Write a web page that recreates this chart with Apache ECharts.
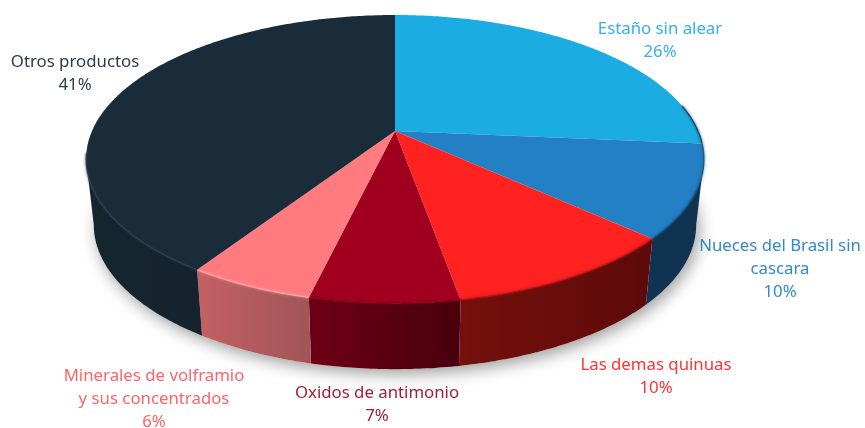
<!DOCTYPE html>
<html>
<head>
<meta charset="utf-8">
<title>Exportaciones</title>
<script src="https://cdn.jsdelivr.net/npm/echarts@6/dist/echarts.min.js"></script>
<style>
  html, body { margin: 0; padding: 0; background: #fff; }
  #main { width: 865px; height: 428px; }
</style>
</head>
<body>
<div id="main"></div>
<script>
const categories = ['Estaño sin alear', 'Nueces del Brasil sin\ncascara', 'Las demas quinuas',
  'Oxidos de antimonio', 'Minerales de volframio\ny sus concentrados', 'Otros productos'];
const values = [26.4, 10.4, 10.4, 6.5, 5.5, 40.8];

const topColors = ['#1BACE2', '#2480C4', '#FE2220', '#A0001E', '#FF7B80', '#1A2C3A'];
const wallLeft = ['#0F3350', '#0F3350', '#74100D', '#6E0014', '#C46064', '#15252F'];
const wallRight = ['#0F3350', '#0F3350', '#5E0A0A', '#48000C', '#A05558', '#14232E'];
const rimColors = ['#0F3350', '#16507E', '#A8120F', '#8A0019', '#FFA4A8', '#283F4E'];
const labelColors = ['#36B1E6', '#3388CC', '#FF3333', '#A0203C', '#FF6468', '#2B3C4A'];
// centro x / y de la primera linea de cada etiqueta
const labelPos = [[660, 18], [780, 235], [656, 354], [377, 382], [154, 365], [75, 51]];

// proyeccion del disco, con perspectiva
const cx = 395, cyTop = 131, cyBottom = 197;
const R = 303, S = 138.6, k = 0.195, bottomScale = 0.975;
// angulos donde la cara superior llega a su ancho maximo
const wallFrom = Math.acos(-k), wallTo = Math.PI * 2 - wallFrom;

const total = values.reduce((a, b) => a + b, 0);
const starts = [];
values.reduce((acc, v, i) => { starts[i] = acc; return acc + v; }, 0);

function project(angle, bottom) {
  const u = Math.sin(angle), v = -Math.cos(angle);
  const den = 1 - k * v;
  if (bottom) return [cx + bottomScale * R * u / den, cyBottom + S * v / den];
  return [cx + R * u / den, cyTop + S * v / den];
}

function arc(from, to, bottom) {
  const pts = [];
  const n = Math.max(4, Math.ceil((to - from) * 90));
  for (let j = 0; j <= n; j++) pts.push(project(from + (to - from) * j / n, bottom));
  return pts;
}

function sliceAngles(i) {
  return [starts[i] / total * Math.PI * 2, (starts[i] + values[i]) / total * Math.PI * 2];
}

const option = {
  backgroundColor: '#fff',
  animation: false,
  tooltip: { show: false },
  series: [
    {
      // sombra sobre el piso
      type: 'custom', coordinateSystem: 'none', silent: true, z: 1,
      data: [1],
      renderItem() {
        return {
          type: 'polygon',
          shape: { points: arc(0, Math.PI * 2, true) },
          style: { fill: '#fff', shadowBlur: 16, shadowOffsetX: 3, shadowOffsetY: 5, shadowColor: 'rgba(0,0,0,0.38)' }
        };
      }
    },
    {
      // paredes, solo la parte de adelante
      type: 'custom', coordinateSystem: 'none', silent: true, z: 2,
      data: values,
      renderItem(params) {
        const i = params.dataIndex;
        const [a0, a1] = sliceAngles(i);
        const from = Math.max(a0, wallFrom), to = Math.min(a1, wallTo);
        if (to <= from) return null;
        return {
          type: 'polygon',
          shape: { points: arc(from, to, false).concat(arc(from, to, true).reverse()) },
          style: { fill: new echarts.graphic.LinearGradient(0, 0, 1, 0, [
            { offset: 0, color: wallLeft[i] }, { offset: 1, color: wallRight[i] }
          ]) }
        };
      }
    },
    {
      // cara superior
      type: 'custom', coordinateSystem: 'none', silent: true, z: 3,
      data: values,
      renderItem(params) {
        const i = params.dataIndex;
        const [a0, a1] = sliceAngles(i);
        const rimFrom = Math.max(a0, Math.PI * 0.44), rimTo = Math.min(a1, Math.PI * 1.45);
        const children = [{
          type: 'polygon',
          shape: { points: [[cx, cyTop]].concat(arc(a0, a1, false)) },
          style: { fill: topColors[i] }
        }];
        if (rimTo > rimFrom) {
          children.push({
            type: 'polyline',
            shape: { points: arc(rimFrom, rimTo, false) },
            style: { fill: null, stroke: rimColors[i], lineWidth: 1.4, opacity: 0.8, shadowBlur: 3, shadowColor: rimColors[i] }
          });
        }
        return { type: 'group', children };
      }
    },
    {
      // etiquetas
      type: 'custom', coordinateSystem: 'none', silent: true, z: 4,
      data: values,
      renderItem(params) {
        const i = params.dataIndex;
        return {
          type: 'text',
          x: labelPos[i][0], y: labelPos[i][1],
          style: {
            text: categories[i] + '\n' + Math.round(values[i] / total * 100) + '%',
            fill: labelColors[i],
            font: '400 16.8px "Noto Sans"',
            lineHeight: 23,
            align: 'center',
            verticalAlign: 'top'
          }
        };
      }
    }
  ]
};

const chart = echarts.init(document.getElementById('main'), null, { renderer: 'canvas' });
chart.setOption(option);
</script>
</body>
</html>
